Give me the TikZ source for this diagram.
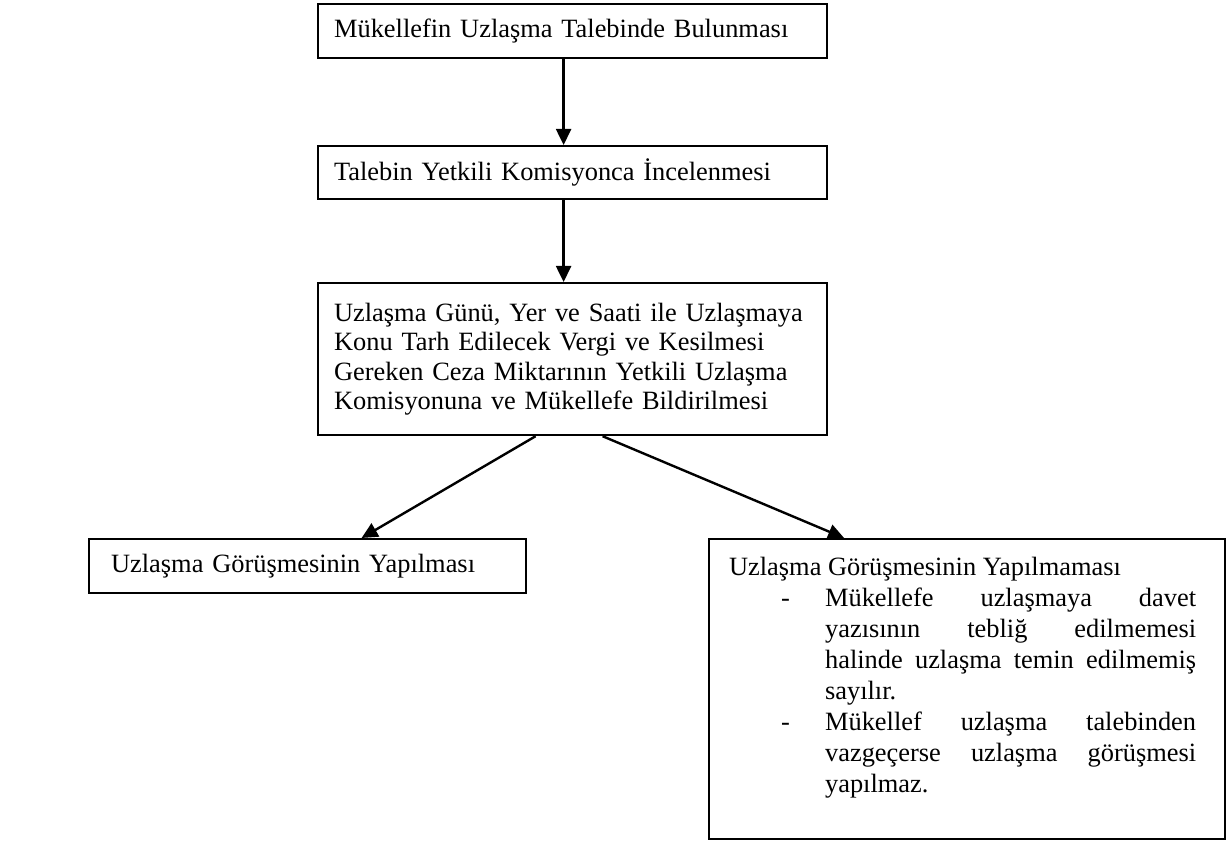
\documentclass[tikz,border=0pt]{standalone}
\usepackage{fontspec}
\setmainfont{Liberation Serif}
\usetikzlibrary{shapes,arrows.meta,positioning,calc}
\hyphenpenalty=10000

\begin{document}
\begin{tikzpicture}[x=0.5pt, y=-0.5pt,
    stage/.style={draw, line width=1.1pt, anchor=north west, align=left, inner xsep=8pt, inner ysep=0pt, font=\fontsize{13.2}{14.6}\selectfont},
    flow/.style={line width=1.2pt, -{Triangle[length=8pt, width=7.5pt]}}]
% flow of the uzlasma steps
\useasboundingbox (0,0) rectangle (1230,844);

\node[stage, text width=238.5pt, minimum height=27pt] (request) at (317,3) {Mükellefin Uzlaşma Talebinde Bulunması};
\node[stage, text width=238.5pt, minimum height=26.5pt] (review) at (317,145) {Talebin Yetkili Komisyonca İncelenmesi};
\node[stage, text width=238.5pt, minimum height=76pt] (notice) at (317,282) {Uzlaşma Günü, Yer ve Saati ile Uzlaşmaya\\Konu Tarh Edilecek Vergi ve Kesilmesi\\Gereken Ceza Miktarının Yetkili Uzlaşma\\Komisyonuna ve Mükellefe Bildirilmesi};

\node[stage, inner xsep=11pt, text width=196.5pt, minimum height=27pt] (held) at (88,538) {Uzlaşma Görüşmesinin Yapılması};
\node[stage, align=justify, inner xsep=10pt, inner ysep=5pt, text width=238pt] (notheld) at (708,538) {\parbox[c][140pt][t]{233.5pt}{\fontsize{13.2}{15.5}\selectfont
    \tolerance=10000 \vspace*{4pt}
    Uzlaşma Görüşmesinin Yapılmaması\par
    \noindent\hangindent=48pt\hangafter=1\makebox[48pt][l]{\hspace*{26pt}-}Mükellefe uzlaşmaya davet\linebreak yazısının tebliğ edilmemesi\linebreak halinde uzlaşma temin edilmemiş sayılır.\par
    \noindent\hangindent=48pt\hangafter=1\makebox[48pt][l]{\hspace*{26pt}-}Mükellef uzlaşma talebinden vazgeçerse uzlaşma görüşmesi yapılmaz.\par}};

\draw[flow] ($(request.south)+(-9,0)$) -- ($(review.north)+(-9,0)$);
\draw[flow] ($(review.south)+(-9,0)$) -- ($(notice.north)+(-9,0)$);
\draw[flow] ($(notice.south)+(-37,0)$) -- ($(held.north)+(54,0)$);
\draw[flow] ($(notice.south)+(30,0)$) -- ($(notheld.north)+(-123,0)$);
\end{tikzpicture}
\end{document}
